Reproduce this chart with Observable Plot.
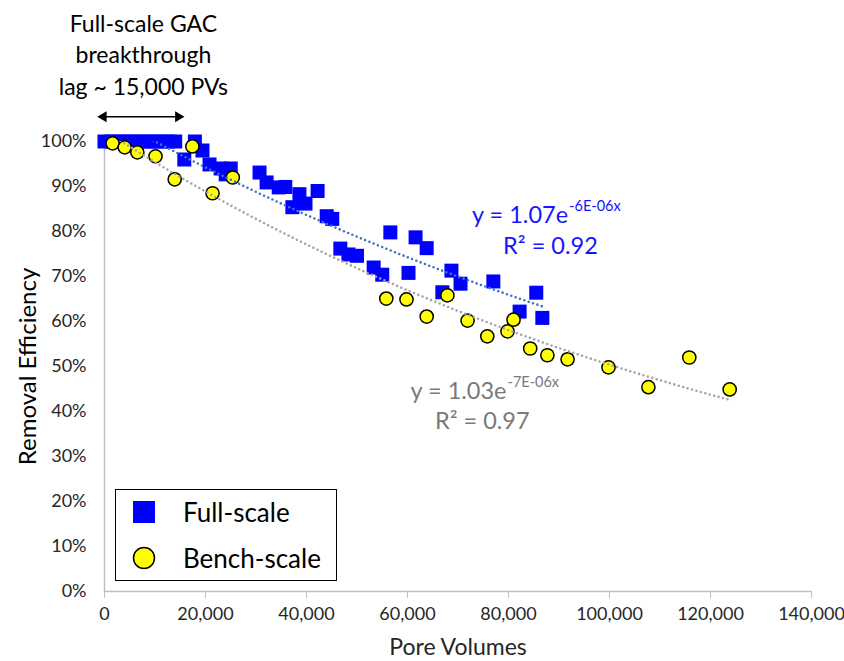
<!DOCTYPE html>
<html><head><meta charset="utf-8">
<script src="https://cdn.jsdelivr.net/npm/d3@7"></script>
<script src="https://cdn.jsdelivr.net/npm/@observablehq/plot@0.6"></script>
<style>
body{margin:0;background:#fff;}
#wrap{position:relative;width:844px;height:661px;font-family:Lato,sans-serif;}
#legend{position:absolute;left:115px;top:489px;width:222px;height:92px;border:1.5px solid #000;background:#fff;box-sizing:border-box;}
.row{position:absolute;left:0;display:flex;align-items:center;font-size:26px;color:#000;}
.row svg{margin-left:16px;margin-right:27px;}
</style></head><body>
<div id="wrap"></div>
<script>
// Full-scale (blue squares): pore volumes and removal efficiency (%)
const fullPV = [0,1400,2800,4200,5600,7000,8400,9800,11200,12600,14000,
  15800,17900,19400,20800,23000,24000,25000,30700,32100,34500,35800,37200,38600,39800,42200,
  44000,45100,46700,48300,50000,53300,55000,56600,60200,61600,63800,66900,68700,70500,77000,82200,85500,86700];
const fullRE = [100,100,100,100,100,100,100,100,100,100,100,
  96,100,98,94.9,94,92.7,94,93.1,90.9,89.8,89.9,85.4,88.3,86.2,89,
  83.4,82.8,76.2,74.9,74.6,72,70.4,79.8,70.8,78.7,76.3,66.5,71.3,68.4,68.9,62.2,66.4,60.8];
// Bench-scale (yellow circles)
const benchPV = [1600,4000,6500,10100,13900,17400,21400,25400,55800,59800,63800,67900,71900,75800,
  79800,81000,84300,87700,91700,99800,107700,115800,123800];
const benchRE = [99.6,98.7,97.6,96.7,91.6,98.9,88.5,92,65.1,64.9,61.1,65.8,60.2,56.7,
  57.8,60.4,54,52.5,51.6,49.8,45.4,52,44.9];

const xTicks = [0,20000,40000,60000,80000,100000,120000,140000];
const yTicks = [0,10,20,30,40,50,60,70,80,90,100];

const seriesNames = ["Full-scale","Bench-scale"];
const fullEqMain = "y = 1.07e", fullEqExp = "-6E-06x", fullR2 = "R² = 0.92";
const benchEqMain = "y = 1.03e", benchEqExp = "-7E-06x", benchR2 = "R² = 0.97";
const titleText = "Full-scale GAC\nbreakthrough\nlag ~ 15,000 PVs";
const lagStart = 0, lagEnd = 15000;

// label anchor positions (data units)
const titlePos = {x: 7700, y: 119.6};
const arrowY = 105.5;
const fullEqPos = {x: 91800, y: 83.5, ex: 92000, ey: 85.6, rx: 88300, ry: 76.7};
const benchEqPos = {x: 79600, y: 44.4, ex: 79800, ey: 46.4, rx: 74800, ry: 37.8};

const colors = {full: "#0000ff", bench: "#ffff00", fullTrend: "#4472c4", benchTrend: "#a5a5a5", fullText: "#1414ff", benchText: "#7a7a7a"};

function expFit(xs, ys) {
  const ly = ys.map(v => Math.log(v));
  const mx = d3.mean(xs), my = d3.mean(ly);
  let num = 0, den = 0;
  xs.forEach((x, i) => { num += (x - mx) * (ly[i] - my); den += (x - mx) ** 2; });
  const b = num / den, a = Math.exp(my - b * mx);
  return {a, b};
}
function trend(xs, ys) {
  const {a, b} = expFit(xs, ys);
  const x0 = d3.min(xs), x1 = d3.max(xs), n = 80;
  return d3.range(n + 1).map(i => { const x = x0 + (x1 - x0) * i / n; return {x, y: a * Math.exp(b * x)}; });
}

const full = fullPV.map((x, i) => ({x, y: fullRE[i]}));
const bench = benchPV.map((x, i) => ({x, y: benchRE[i]}));
const fullTrend = trend(fullPV, fullRE);
const benchTrend = trend(benchPV, benchRE);

const chart = Plot.plot({
  width: 844, height: 661,
  marginLeft: 104, marginRight: 33, marginTop: 141, marginBottom: 70,
  style: {fontFamily: "Lato, sans-serif", fontSize: "18px", background: "#fff", overflow: "visible"},
  x: {domain: [0, 140000]},
  y: {domain: [0, 100]},
  marks: [
    Plot.ruleX([0], {stroke: "#bfbfbf", strokeWidth: 1.5}),
    Plot.ruleY([0], {stroke: "#bfbfbf", strokeWidth: 1.5}),
    Plot.axisX({ticks: xTicks, tickFormat: d3.format(","), tickSize: 7, tickPadding: 9, stroke: "#bfbfbf", fill: "#262626", fontSize: 18, label: null}),
    Plot.axisY({ticks: yTicks, tickFormat: d => d + "%", tickSize: 0, tickPadding: 18, fill: "#262626", fontSize: 18, label: null}),
    Plot.text(["Pore Volumes"], {frameAnchor: "bottom", lineAnchor: "middle", dy: 56, fontSize: 23, fill: "#262626"}),
    Plot.text(["Removal Efficiency"], {frameAnchor: "left", textAnchor: "middle", lineAnchor: "middle", dx: -76, rotate: -90, fontSize: 24, fill: "#000"}),
    Plot.dot(full, {x: "x", y: "y", symbol: "square", r: 7.9, fill: colors.full, stroke: null}),
    Plot.dot(bench, {x: "x", y: "y", symbol: "circle", r: 6.6, fill: colors.bench, stroke: "#000", strokeWidth: 1.5}),
    Plot.line(fullTrend, {x: "x", y: "y", stroke: colors.fullTrend, strokeWidth: 2.6, strokeDasharray: "0 4.6", strokeLinecap: "round", clip: true}),
    Plot.line(benchTrend, {x: "x", y: "y", stroke: colors.benchTrend, strokeWidth: 2.6, strokeDasharray: "0 4.6", strokeLinecap: "round", clip: true}),
    Plot.text([titleText], {x: () => titlePos.x, y: () => titlePos.y, fontSize: 23, lineHeight: 1.37, fill: "#000"}),
    Plot.link([{x1: lagStart, x2: lagEnd}], {x1: "x1", x2: "x2", y1: () => arrowY, y2: () => arrowY, stroke: "#000", strokeWidth: 1.6}),
    Plot.dot([lagStart], {x: d => d, y: () => arrowY, symbol: "triangle", r: 4, rotate: -90, fill: "#000", stroke: null, dx: -1}),
    Plot.dot([lagEnd], {x: d => d, y: () => arrowY, symbol: "triangle", r: 4, rotate: 90, fill: "#000", stroke: null, dx: -2}),
    Plot.text([fullEqMain], {x: () => fullEqPos.x, y: () => fullEqPos.y, textAnchor: "end", fontSize: 23.5, fill: colors.fullText}),
    Plot.text([fullEqExp], {x: () => fullEqPos.ex, y: () => fullEqPos.ey, textAnchor: "start", fontSize: 14.5, fill: colors.fullText}),
    Plot.text([fullR2], {x: () => fullEqPos.rx, y: () => fullEqPos.ry, fontSize: 23.5, fill: colors.fullText}),
    Plot.text([benchEqMain], {x: () => benchEqPos.x, y: () => benchEqPos.y, textAnchor: "end", fontSize: 23.5, fill: colors.benchText}),
    Plot.text([benchEqExp], {x: () => benchEqPos.ex, y: () => benchEqPos.ey, textAnchor: "start", fontSize: 14.5, fill: colors.benchText}),
    Plot.text([benchR2], {x: () => benchEqPos.rx, y: () => benchEqPos.ry, fontSize: 23.5, fill: colors.benchText})
  ]
});
const wrap = document.getElementById("wrap");
wrap.appendChild(chart);

// legend overlay
const legend = document.createElement("div");
legend.id = "legend";
const swatches = [
  `<svg width="24" height="24"><rect x="1" y="1" width="22" height="22" fill="${colors.full}"/></svg>`,
  `<svg width="24" height="24"><circle cx="12" cy="12" r="10.5" fill="${colors.bench}" stroke="#000" stroke-width="1.5"/></svg>`
];
seriesNames.forEach((name, i) => {
  const row = document.createElement("div");
  row.className = "row";
  row.style.top = (i === 0 ? 6 : 52) + "px";
  row.innerHTML = swatches[i] + `<span>${name}</span>`;
  legend.appendChild(row);
});
wrap.appendChild(legend);
</script>
</body></html>
